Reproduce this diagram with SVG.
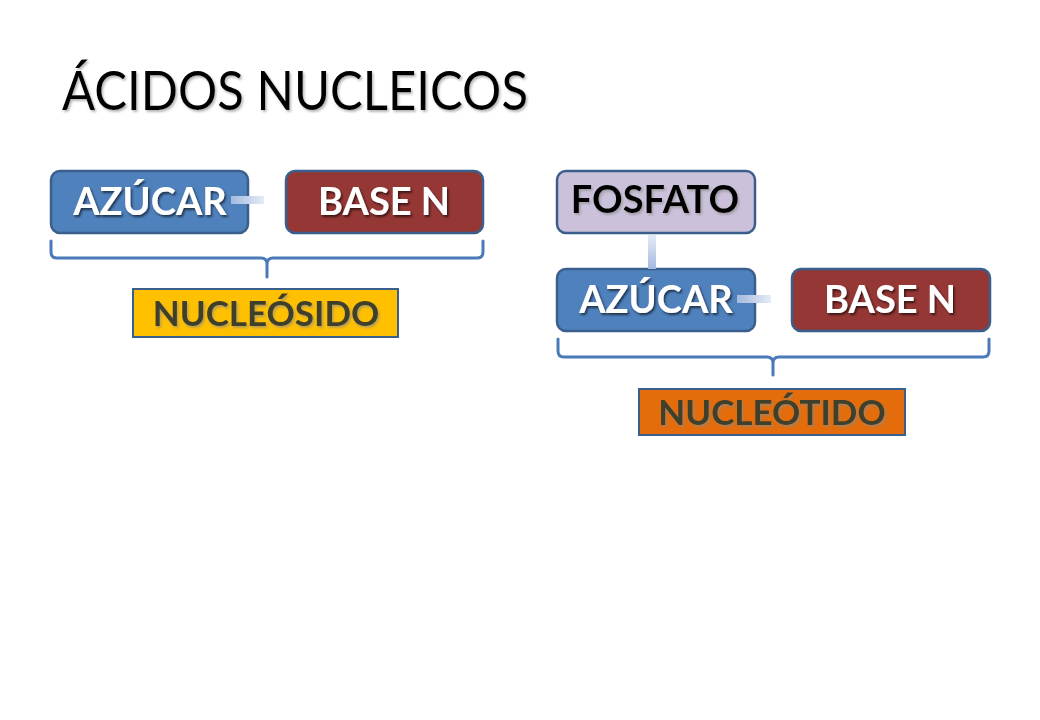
<svg xmlns="http://www.w3.org/2000/svg" width="1040" height="720" viewBox="0 0 1040 720">
<defs>
<style>
.box{stroke:#3b5f8c;stroke-width:2.5}
.az{fill:#4f81bd}
.bn{fill:#953735}
.fo{fill:#ccc1da}
.lbl{stroke:#3b5f8c;stroke-width:2}
.t{font-family:Lato,"Open Sans",sans-serif;font-weight:bold;text-anchor:middle}
.w{fill:#ffffff;filter:url(#sh)}
.k{fill:#000000;filter:url(#shl)}
.d{fill:#3f3f2c;filter:url(#shl)}
.br{fill:none;stroke:#4a7ab8;stroke-width:3;stroke-linejoin:round;stroke-linecap:round}
</style>
<filter id="sh" x="-10%" y="-20%" width="130%" height="150%">
<feDropShadow dx="1.5" dy="2" stdDeviation="1" flood-color="#000" flood-opacity="0.6"/>
</filter>
<filter id="shl" x="-10%" y="-20%" width="130%" height="150%">
<feDropShadow dx="1.5" dy="2" stdDeviation="1" flood-color="#888" flood-opacity="0.6"/>
</filter>
<linearGradient id="gh" x1="0" y1="0" x2="1" y2="0">
<stop offset="0" stop-color="#a3b9de"/>
<stop offset="1" stop-color="#e6ecf7"/>
</linearGradient>
<linearGradient id="gv" x1="0" y1="0" x2="0" y2="1">
<stop offset="0" stop-color="#e6ecf7"/>
<stop offset="1" stop-color="#a3b9de"/>
</linearGradient>
</defs>
<rect width="1040" height="720" fill="#ffffff"/>
<text id="title" x="62" y="110" font-family="Lato,'Open Sans',sans-serif" font-size="54" fill="#000" filter="url(#shl)" textLength="466" lengthAdjust="spacingAndGlyphs">ÁCIDOS NUCLEICOS</text>
<g id="azucar1">
<rect class="box az" x="51" y="171" width="197" height="62" rx="9"/>
<text class="t w" x="150" y="215" font-size="38">AZÚCAR</text>
</g>
<g id="base1">
<rect class="box bn" x="286" y="171" width="197" height="62" rx="9"/>
<text class="t w" x="384" y="215" font-size="38">BASE N</text>
</g>
<g id="nucleosido">
<rect class="lbl" x="133" y="289" width="265" height="48" fill="#ffc000"/>
<text class="t d" x="266" y="326" font-size="35">NUCLEÓSIDO</text>
</g>
<g id="fosfato">
<rect class="box fo" x="557" y="171" width="198" height="62" rx="9"/>
<text class="t k" x="655" y="213" font-size="38">FOSFATO</text>
</g>
<g id="azucar2">
<rect class="box az" x="557" y="269" width="198" height="62" rx="9"/>
<text class="t w" x="656" y="313" font-size="38">AZÚCAR</text>
</g>
<g id="base2">
<rect class="box bn" x="792" y="269" width="198" height="62" rx="9"/>
<text class="t w" x="890" y="313" font-size="38">BASE N</text>
</g>
<g id="nucleotido">
<rect class="lbl" x="639" y="389" width="266" height="46" fill="#e46c0a"/>
<text class="t d" x="772" y="425" font-size="35">NUCLEÓTIDO</text>
</g>
<g id="connectors">
<rect x="231" y="196" width="33" height="8" fill="url(#gh)"/>
<rect x="648" y="235" width="8" height="34" fill="url(#gv)"/>
<rect x="737" y="295" width="34" height="8" fill="url(#gh)"/>
<path class="br" d="M51 241 V252 Q51 258 57 258 H261 Q267 258 267 264 V277 M267 264 Q267 258 273 258 H477 Q483 258 483 252 V241"/>
<path class="br" d="M558 339 V351 Q558 357 564 357 H767 Q773 357 773 363 V375 M773 363 Q773 357 779 357 H983 Q989 357 989 351 V339"/>
</g>
</svg>
